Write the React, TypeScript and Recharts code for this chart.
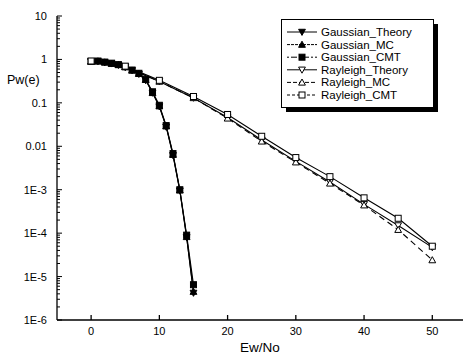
import { LineChart, Line, XAxis, YAxis, Legend } from "recharts";

// Gaussian channel, Ew/No = 0..15
const gaussX = [0, 1, 2, 3, 4, 5, 6, 7, 8, 9, 10, 11, 12, 13, 14, 15];
const gaussTheory = [0.9, 0.9, 0.85, 0.8, 0.74, 0.66, 0.56, 0.46, 0.33, 0.17, 0.082, 0.028, 0.0062, 0.00095, 0.00008, 0.0000042];
const gaussMC = [0.9, 0.91, 0.86, 0.8, 0.75, 0.67, 0.56, 0.47, 0.34, 0.17, 0.084, 0.029, 0.0064, 0.00097, 0.000082, 0.0000045];
const gaussCMT = [0.9, 0.92, 0.87, 0.82, 0.76, 0.68, 0.57, 0.48, 0.35, 0.18, 0.088, 0.03, 0.0068, 0.001, 0.00009, 0.0000065];

// Rayleigh channel, Ew/No = 0..50
const rayX = [0, 5, 10, 15, 20, 25, 30, 35, 40, 45, 50];
const rayTheory = [0.9, 0.68, 0.31, 0.13, 0.046, 0.014, 0.0045, 0.0015, 0.00046, 0.00015, 0.000047];
const rayMC = [0.9, 0.68, 0.31, 0.13, 0.044, 0.013, 0.0043, 0.0014, 0.00044, 0.00012, 0.000024];
const rayCMT = [0.92, 0.7, 0.33, 0.14, 0.054, 0.017, 0.0055, 0.002, 0.00065, 0.00022, 0.00005];

const xTicks = [0, 10, 20, 30, 40, 50];
const yTicks = [1e-6, 1e-5, 1e-4, 1e-3, 0.01, 0.1, 1, 10];
const yTickLabels = ["1E-6", "1E-5", "1E-4", "1E-3", "0.01", "0.1", "1", "10"];

// minor log ticks 2..9 in each decade
const yMinorTicks: number[] = [];
for (let e = -6; e <= 0; e++) {
  for (let k = 2; k <= 9; k++) yMinorTicks.push(k * Math.pow(10, e));
}
const yAllTicks = [...yTicks, ...yMinorTicks].sort((a, b) => a - b);

const majorIndex = (v: number) => yTicks.findIndex((t) => Math.abs(t - v) / t < 1e-6);

const FONT = "'Liberation Sans', Arial, Helvetica, sans-serif";

type Kind = "down" | "up" | "square";

const series = [
  { name: "Gaussian_Theory", kind: "down" as Kind, filled: true, dash: undefined, xs: gaussX, ys: gaussTheory },
  { name: "Gaussian_MC", kind: "up" as Kind, filled: true, dash: undefined, xs: gaussX, ys: gaussMC },
  { name: "Gaussian_CMT", kind: "square" as Kind, filled: true, dash: undefined, xs: gaussX, ys: gaussCMT },
  { name: "Rayleigh_Theory", kind: "down" as Kind, filled: false, dash: undefined, xs: rayX, ys: rayTheory },
  { name: "Rayleigh_MC", kind: "up" as Kind, filled: false, dash: "6 4", xs: rayX, ys: rayMC },
  { name: "Rayleigh_CMT", kind: "square" as Kind, filled: false, dash: undefined, xs: rayX, ys: rayCMT },
];

const legendDash = [undefined, "3 1", "2 2 6 2", undefined, "4 2", "3 2"];

function Marker({ kind, filled, cx, cy }: { kind: Kind; filled: boolean; cx: number; cy: number }) {
  const fill = filled ? "#000" : "#fff";
  const r = 3.4;
  if (kind === "down") {
    return <polygon points={`${cx - r},${cy - r * 0.8} ${cx + r},${cy - r * 0.8} ${cx},${cy + r}`} fill={fill} stroke="#000" strokeWidth={1} />;
  }
  if (kind === "up") {
    return <polygon points={`${cx - r},${cy + r * 0.8} ${cx + r},${cy + r * 0.8} ${cx},${cy - r}`} fill={fill} stroke="#000" strokeWidth={1} />;
  }
  return <rect x={cx - 3} y={cy - 3} width={6} height={6} fill={fill} stroke="#000" strokeWidth={1} />;
}

// y tick: inward tick line (long for decades, short for minor) + label for decades
function YTick({ x, y, payload }: any) {
  const i = majorIndex(payload.value);
  const axisX = x + 10;
  return (
    <g>
      <line x1={axisX} x2={axisX + (i >= 0 ? 5 : 3)} y1={y} y2={y} stroke="#000" strokeWidth={1} />
      {i >= 0 && (
        <text x={x} y={y} dy={4} textAnchor="end" fontSize={11} fontFamily={FONT} fill="#000">
          {yTickLabels[i]}
        </text>
      )}
    </g>
  );
}

function LegendBox() {
  const w = 152;
  const h = 88;
  const rowH = 12.6;
  return (
    <svg width={w + 6} height={h + 6} style={{ display: "block" }}>
      <rect x={5} y={5} width={w} height={h} fill="#000" />
      <rect x={0.5} y={0.5} width={w} height={h} fill="#fff" stroke="#000" strokeWidth={1} />
      {series.map((s, i) => {
        const y = 13 + i * rowH;
        return (
          <g key={s.name}>
            <line x1={6} x2={36} y1={y} y2={y} stroke="#000" strokeWidth={1} strokeDasharray={legendDash[i]} />
            <Marker kind={s.kind} filled={s.filled} cx={21} cy={y} />
            <text x={40} y={y + 4} fontSize={11.5} fontFamily={FONT} fill="#000">
              {s.name}
            </text>
          </g>
        );
      })}
    </svg>
  );
}

export default function App() {
  return (
    <div style={{ position: "absolute", left: 0, top: 0, width: 463, height: 356, background: "#fff" }}>
      <LineChart width={463} height={356} margin={{ top: 16, right: 0, bottom: 6, left: 7 }}>
        <XAxis
          dataKey="x"
          type="number"
          domain={[-5, 54.5]}
          ticks={xTicks}
          allowDataOverflow
          height={30}
          stroke="#000"
          strokeWidth={1.3}
          tickSize={-5}
          tickMargin={12}
          tick={{ fill: "#000", fontSize: 11, fontFamily: FONT }}
          label={{ value: "Ew/No", position: "insideBottom", offset: -2, fill: "#000", fontSize: 13.5, fontFamily: FONT }}
        />
        <YAxis
          dataKey="y"
          type="number"
          scale="log"
          domain={[1e-6, 10]}
          allowDataOverflow
          ticks={yAllTicks}
          interval={0}
          width={50}
          stroke="#000"
          strokeWidth={1.3}
          tickLine={false}
          tickSize={0}
          tickMargin={10}
          tick={<YTick />}
          label={({ viewBox }: any) => (
            <text x={viewBox.x} y={84} fontSize={12.5} fontFamily={FONT} fill="#000">
              Pw(e)
            </text>
          )}
        />
        <Legend
          layout="vertical"
          align="center"
          verticalAlign="middle"
          content={() => <LegendBox />}
          wrapperStyle={{ position: "absolute", left: 281, top: 19, width: 160, height: 96 }}
        />
        {series.map((s) => (
          <Line
            key={s.name}
            name={s.name}
            data={s.xs.map((x, i) => ({ x, y: s.ys[i] }))}
            dataKey="y"
            type="linear"
            stroke="#000"
            strokeWidth={1.1}
            strokeDasharray={s.dash}
            isAnimationActive={false}
            dot={(p: any) => <Marker key={`${s.name}-${p.index}`} kind={s.kind} filled={s.filled} cx={p.cx} cy={p.cy} />}
            activeDot={false}
          />
        ))}
      </LineChart>
    </div>
  );
}
